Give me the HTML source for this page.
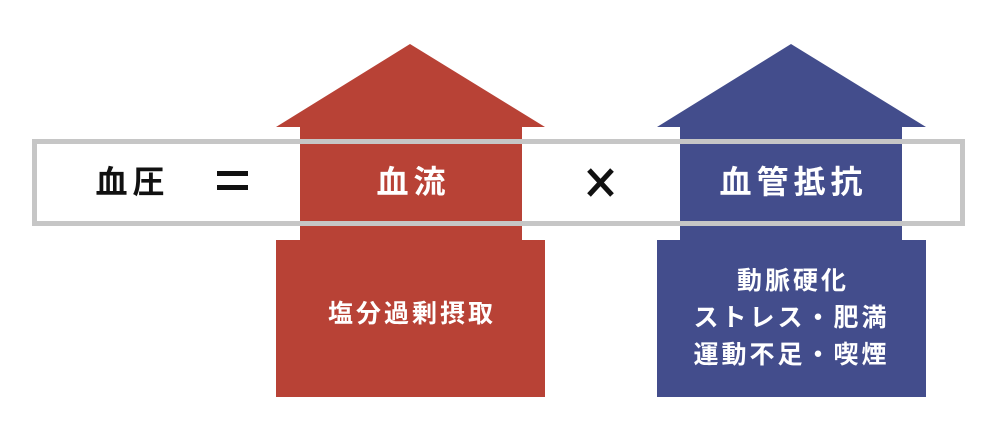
<!DOCTYPE html>
<html><head><meta charset="utf-8"><style>
body{margin:0;width:1000px;height:440px;background:#fff;overflow:hidden;position:relative;font-family:"Liberation Sans","Noto Sans CJK JP",sans-serif;}
.t{position:absolute;font-weight:bold;white-space:nowrap;text-align:center;line-height:1}
.b{font-size:32px;letter-spacing:5px;text-indent:5px}
.s{font-size:25px;letter-spacing:3px;text-indent:3px;color:#fff}
</style></head><body>
<svg width="1000" height="440" style="position:absolute;left:0;top:0">
<polygon fill="#b84236" points="410,44 545,127 522,127 522,240 545,240 545,397 276,397 276,240 300,240 300,127 276,127"/>
<polygon fill="#434d8c" points="791,44 926,127 902,127 902,240 926,240 926,397 657,397 657,240 680,240 680,127 657,127"/>
<rect x="34.5" y="141.5" width="928" height="82" fill="none" stroke="#c6c6c6" stroke-width="5"/>
<rect x="217" y="171" width="31" height="5" fill="#111"/>
<rect x="217" y="185" width="31" height="5" fill="#111"/>
<path d="M589 170 L612 195 M612 170 L589 195" stroke="#111" stroke-width="5"/>
</svg>
<div class="t b" style="left:85px;width:90px;top:166px;color:#111">血圧</div>
<div class="t b" style="left:300px;width:222px;top:166px;color:#fff">血流</div>
<div class="t b" style="left:680px;width:222px;top:166px;color:#fff">血管抵抗</div>
<div class="t s" style="left:276px;width:269px;top:302px">塩分過剰摂取</div>
<div class="t s" style="left:657px;width:269px;top:263px;line-height:37px">動脈硬化<br>ストレス・肥満<br>運動不足・喫煙</div>
</body></html>
